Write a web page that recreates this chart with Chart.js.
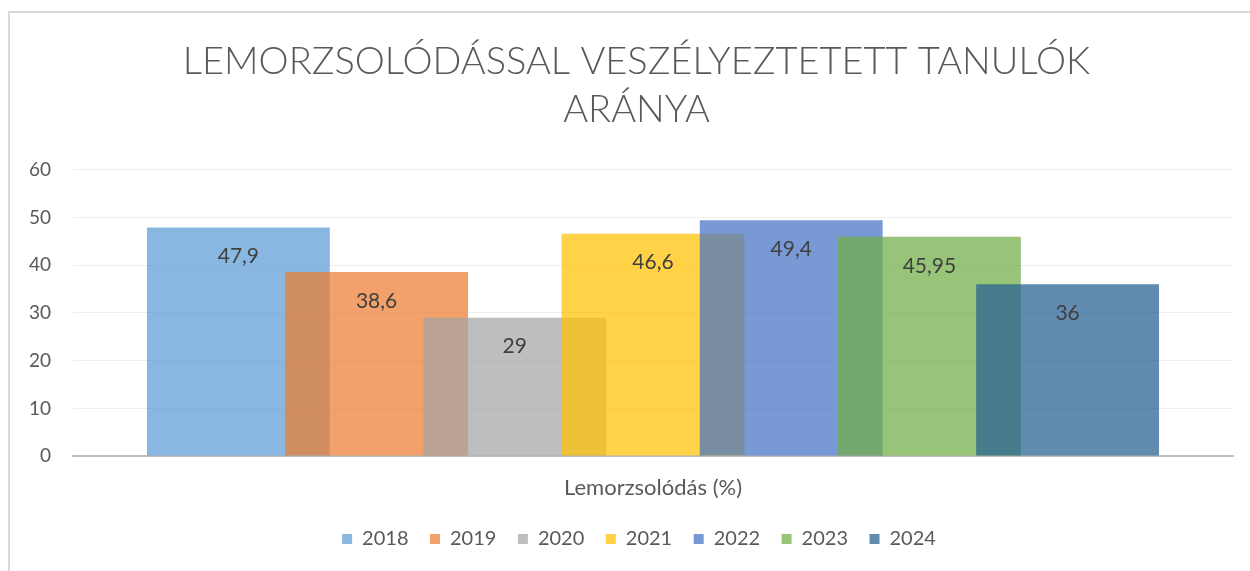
<!DOCTYPE html>
<html>
<head>
<meta charset="utf-8">
<script src="https://cdn.jsdelivr.net/npm/chart.js@4/dist/chart.umd.min.js"></script>
<style>
  html, body { margin: 0; padding: 0; background: #fff; }
  #wrap { position: relative; width: 1250px; height: 571px; }
</style>
</head>
<body>
<div id="wrap"><canvas id="chart" width="1250" height="571"></canvas></div>
<script>
// Lemorzsolódással veszélyeztetett tanulók aránya
const categories = ['Lemorzsolódás (%)'];
const years = ['2018', '2019', '2020', '2021', '2022', '2023', '2024'];
const values = [47.9, 38.6, 29, 46.6, 49.4, 45.95, 36];
const yTicks = [0, 10, 20, 30, 40, 50, 60];

const colors = [
  'rgba(91,155,213,0.72)',
  'rgba(237,125,49,0.72)',
  'rgba(165,165,165,0.72)',
  'rgba(255,192,0,0.72)',
  'rgba(68,114,196,0.72)',
  'rgba(112,173,71,0.72)',
  'rgba(37,94,145,0.72)'
];

const FONT = 'Lato, "Open Sans", sans-serif';

// frame like the excel chart border (top + left only visible)
const framePlugin = {
  id: 'frame',
  beforeDraw(chart) {
    const ctx = chart.ctx;
    ctx.save();
    ctx.strokeStyle = '#d9d9d9';
    ctx.lineWidth = 2;
    ctx.beginPath();
    ctx.moveTo(9, 571);
    ctx.lineTo(9, 12);
    ctx.lineTo(1250, 12);
    ctx.stroke();
    ctx.restore();
  }
};

// title + legend sit a bit right of the plot centre in the original
const nudgePlugin = {
  id: 'nudge',
  afterLayout(chart) {
    chart.titleBlock.left += 20;
    chart.legend.left += 25;
  }
};

function drawLabels(chart) {
  const ctx = chart.ctx;
  ctx.save();
  ctx.font = '21px ' + FONT;
  ctx.fillStyle = '#404040';
  ctx.textAlign = 'center';
  ctx.textBaseline = 'middle';
  chart.data.datasets.forEach((ds, i) => {
    chart.getDatasetMeta(i).data.forEach((bar, j) => {
      const txt = String(ds.data[j]).replace('.', ',');
      ctx.fillText(txt, bar.x, bar.y + 29);
    });
  });
  ctx.restore();
}

// excel paints later series on top, chart.js does the reverse -> paint in series order
const paintOrderPlugin = {
  id: 'paintOrder',
  beforeDatasetsDraw(chart) {
    const a = chart.chartArea;
    const ctx = chart.ctx;
    ctx.save();
    ctx.beginPath();
    ctx.rect(a.left, a.top, a.right - a.left, a.bottom - a.top);
    ctx.clip();
    chart.data.datasets.forEach((ds, i) => chart.getDatasetMeta(i).controller.draw());
    ctx.restore();
    drawLabels(chart);
    return false;
  }
};

new Chart(document.getElementById('chart'), {
  type: 'bar',
  data: {
    labels: categories,
    datasets: years.map((y, i) => ({
      label: y,
      data: [values[i]],
      backgroundColor: colors[i],
      borderWidth: 0,
      categoryPercentage: 0.834,
      barPercentage: 1.323
    }))
  },
  options: {
    responsive: false,
    animation: false,
    layout: { padding: { left: 20, right: 17, top: 38, bottom: 12 } },
    plugins: {
      title: {
        display: true,
        text: ['LEMORZSOLÓDÁSSAL VESZÉLYEZTETETT TANULÓK', 'ARÁNYA'],
        color: '#595959',
        font: { family: FONT, size: 38, weight: '300', lineHeight: 1.26 },
        padding: { top: 0, bottom: 36 }
      },
      legend: {
        position: 'bottom',
        labels: {
          color: '#595959',
          font: { family: FONT, size: 20 },
          boxWidth: 10,
          boxHeight: 10,
          padding: 21.5
        }
      },
      tooltip: { enabled: false }
    },
    scales: {
      x: {
        grid: { display: false },
        border: { color: '#bfbfbf', width: 2 },
        afterFit(scale) { scale.height -= 5; },
        ticks: { color: '#595959', font: { family: FONT, size: 22 }, padding: 11 }
      },
      y: {
        min: 0,
        max: 60,
        afterBuildTicks(scale) { scale.ticks = yTicks.map(v => ({ value: v })); },
        afterFit(scale) { scale.width = 53; },
        grid: { color: '#eeeeee', drawTicks: false },
        border: { display: false },
        ticks: { color: '#595959', font: { family: FONT, size: 19 }, padding: 22 }
      }
    }
  },
  plugins: [framePlugin, nudgePlugin, paintOrderPlugin]
});
</script>
</body>
</html>
